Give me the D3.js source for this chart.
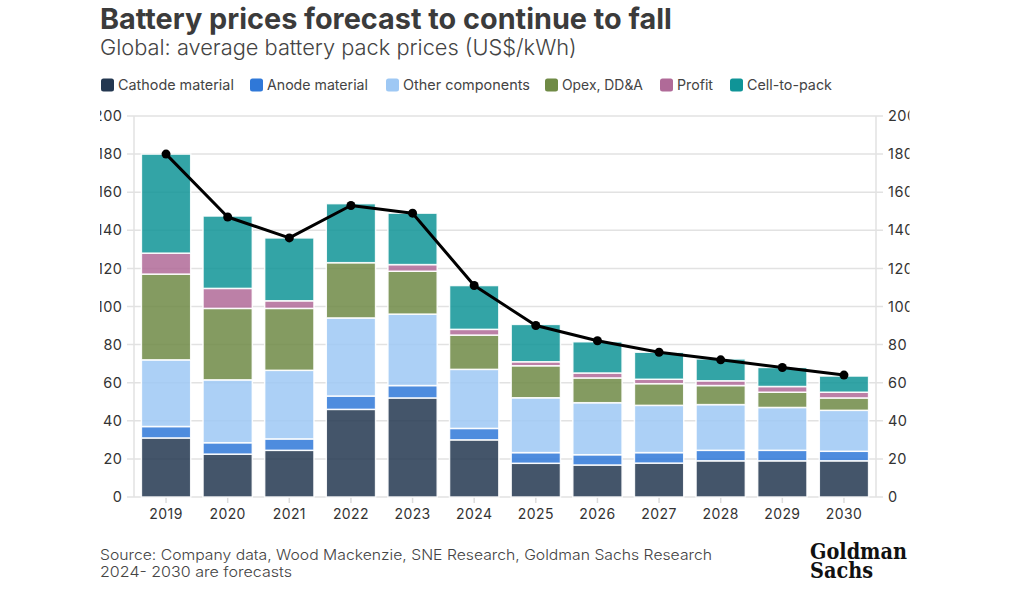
<!DOCTYPE html>
<html>
<head>
<meta charset="utf-8">
<script src="https://cdn.jsdelivr.net/npm/d3@7/dist/d3.min.js"></script>
<style>
  html, body { margin: 0; padding: 0; background: #fff; }
  svg { display: block; font-family: Inter, "Open Sans", sans-serif; }
</style>
</head>
<body>
<svg id="chart" width="1024" height="594"></svg>
<script>
// ---- data ----
const years = ["2019","2020","2021","2022","2023","2024","2025","2026","2027","2028","2029","2030"];
const cathode    = [31, 22.5, 24.5, 46, 52, 30, 17.7, 16.8, 17.8, 19, 19, 19];
const anode      = [6, 6, 6, 7, 6.5, 6, 5.6, 5.4, 5.5, 5.5, 5.5, 5];
const other      = [35, 33, 36, 41, 37.5, 31, 28.8, 27.3, 24.8, 24, 22.5, 21.5];
const opex       = [45, 37.5, 32.5, 29, 22.5, 18, 16.8, 13, 11.4, 10, 8, 6.5];
const profit     = [11, 10.5, 4, 0, 3.5, 3, 2.1, 2.6, 2.3, 2.5, 3, 3];
const cellToPack = [52, 38, 33, 31, 27, 23, 19.6, 16.4, 14.2, 11.5, 10, 8.5];
const total      = [180, 147, 136, 153, 149, 111, 90, 82, 76, 72, 68, 64];
const yTicks     = [0, 20, 40, 60, 80, 100, 120, 140, 160, 180, 200];
const seriesNames = ["Cathode material","Anode material","Other components","Opex, DD&A","Profit","Cell-to-pack"];
const seriesColors = ["#233750","#2f78d8","#9ec8f4","#6f8a45","#b06a98","#0f9497"];
const seriesData = [cathode, anode, other, opex, profit, cellToPack];

(function () {
const svg = d3.select("#chart");
const W = 1024, H = 594;
const pL = 134, pR = 876, pT = 116, pB = 497;

const x = d3.scaleBand().domain(years).range([pL, pR]).paddingInner(0.2).paddingOuter(0.12);
const y = d3.scaleLinear().domain([0, 200]).range([pB, pT]);

const defs = svg.append("defs");
defs.append("clipPath").attr("id","clipL").append("rect").attr("x",100).attr("y",0).attr("width",40).attr("height",H);
defs.append("clipPath").attr("id","clipR").append("rect").attr("x",870).attr("y",0).attr("width",39.5).attr("height",H);

function fit(sel, target) {
  const n = sel.node();
  const fs = parseFloat(sel.attr("font-size"));
  const w = n.getComputedTextLength();
  if (w > 0) sel.attr("font-size", (fs * target / w).toFixed(2));
}

// title
fit(svg.append("text").attr("x",100).attr("y",29).attr("font-size",28).attr("font-weight",700)
  .attr("fill","#3b3b3b").text("Battery prices forecast to continue to fall"), 572);
fit(svg.append("text").attr("x",100).attr("y",55).attr("font-size",19).attr("font-weight",300)
  .attr("fill","#444").text("Global: average battery pack prices (US$/kWh)"), 477);

// legend
const legX = [101, 250, 386, 545, 660, 730];
const legTW = [116, 101, 127, 81, 36, 85];
seriesNames.forEach((nm, i) => {
  svg.append("rect").attr("x", legX[i]).attr("y", 78.5).attr("width", 13).attr("height", 13)
    .attr("rx", 2.5).attr("fill", seriesColors[i]);
  const t = svg.append("text").attr("x", legX[i] + 17).attr("y", 90).attr("font-size", 14)
    .attr("fill","#444").text(nm);
  fit(t, legTW[i]);
});

// gridlines
const grid = svg.append("g");
yTicks.forEach(v => {
  grid.append("line").attr("x1", pL - 7).attr("x2", pR + 7)
    .attr("y1", y(v)).attr("y2", y(v)).attr("stroke","#e2e2e2").attr("stroke-width",1.5);
});
svg.append("line").attr("x1",pL).attr("x2",pL).attr("y1",pT).attr("y2",pB).attr("stroke","#e2e2e2").attr("stroke-width",1.5);
svg.append("line").attr("x1",pR).attr("x2",pR).attr("y1",pT).attr("y2",pB).attr("stroke","#e2e2e2").attr("stroke-width",1.5);

// axes (clipped by untransformed wrappers, as in the reference crop)
const yLeft = svg.append("g").attr("clip-path","url(#clipL)").append("g")
  .attr("transform",`translate(${pL - 11.5},0)`)
  .call(d3.axisLeft(y).tickValues(yTicks).tickSize(0).tickPadding(0));
const yRight = svg.append("g").attr("clip-path","url(#clipR)").append("g")
  .attr("transform",`translate(${pR + 12},0)`)
  .call(d3.axisRight(y).tickValues(yTicks).tickSize(0).tickPadding(0));
[yLeft, yRight].forEach(g => {
  g.select(".domain").remove();
  g.selectAll("text").attr("font-size",14.5).attr("fill","#333").attr("font-family","Inter, sans-serif")
    .attr("letter-spacing", 0.5);
});
const xAx = svg.append("g").attr("transform",`translate(0,${pB})`)
  .call(d3.axisBottom(x).tickSize(6).tickPadding(6));
xAx.select(".domain").remove();
xAx.selectAll("line").attr("stroke","#dcdcdc").attr("stroke-width",1.5);
xAx.selectAll("text").attr("font-size",14).attr("fill","#333").attr("font-family","Inter, sans-serif")
  .attr("letter-spacing", 0.4);

// stacked bars
const table = years.map((yr, i) => {
  const o = { year: yr };
  seriesNames.forEach((nm, s) => o[nm] = seriesData[s][i]);
  return o;
});
const stack = d3.stack().keys(seriesNames)(table);
svg.append("g").selectAll("g").data(stack).join("g")
  .attr("fill", (d, i) => seriesColors[i]).attr("fill-opacity", 0.85)
  .selectAll("rect").data(d => d).join("rect")
  .attr("x", d => x(d.data.year))
  .attr("width", x.bandwidth())
  .attr("y", d => y(d[1]))
  .attr("height", d => Math.max(0, y(d[0]) - y(d[1])))
  .attr("stroke", "#fff").attr("stroke-width", 1.5).attr("stroke-opacity", 0.9);

// line
const cx = yr => x(yr) + x.bandwidth() / 2;
svg.append("path").datum(years.map((yr, i) => [cx(yr), y(total[i])]))
  .attr("d", d3.line())
  .attr("fill","none").attr("stroke","#000").attr("stroke-width",3).attr("stroke-linejoin","round");
svg.append("g").selectAll("circle").data(years).join("circle")
  .attr("cx", d => cx(d)).attr("cy", (d, i) => y(total[i])).attr("r", 4.5).attr("fill","#000");

// footer (one text block, two lines)
const foot = svg.append("text").attr("font-size",14.6).attr("font-weight",300).attr("fill","#444");
foot.append("tspan").attr("x",100).attr("y",560).attr("textLength",612).attr("lengthAdjust","spacingAndGlyphs")
  .text("Source: Company data, Wood Mackenzie, SNE Research, Goldman Sachs Research");
foot.append("tspan").attr("x",100).attr("y",577).attr("textLength",192).attr("lengthAdjust","spacingAndGlyphs")
  .text("2024- 2030 are forecasts");

// logo (one text block, two lines)
const logo = svg.append("text").attr("font-size",23).attr("font-weight",700)
  .attr("font-family","'DejaVu Serif Condensed', 'DejaVu Serif', 'Liberation Serif', serif").attr("fill","#111");
logo.append("tspan").attr("x",810).attr("y",559).attr("textLength",97).attr("lengthAdjust","spacingAndGlyphs").text("Goldman");
logo.append("tspan").attr("x",810).attr("y",578).attr("textLength",63).attr("lengthAdjust","spacingAndGlyphs").text("Sachs");
})();
</script>
</body>
</html>
